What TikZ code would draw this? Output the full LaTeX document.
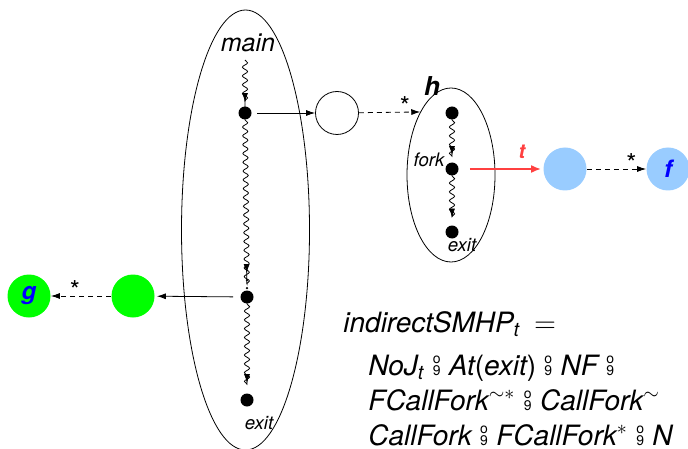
\documentclass[tikz,border=0pt]{standalone}
\usepackage{fontspec}
\setmainfont{TeX Gyre Heros}
\usepackage{xcolor}
\usepackage{tikz}
\usetikzlibrary{positioning,arrows.meta,shapes.geometric,decorations.pathmorphing}

\definecolor{procblue}{HTML}{99CCFF}
\definecolor{procgreen}{HTML}{00FF00}
\definecolor{forkred}{HTML}{FF4040}

\newcommand{\zsemi}{\hspace{0.3em}{\upshape\fontsize{7}{7}\selectfont\makebox[0pt][l]{\raisebox{6pt}{o}}9}\hspace{0.3em}}

\begin{document}
\begin{tikzpicture}[x=0.5pt,y=-0.5pt,
  >={Latex[length=4.5pt,width=3pt]},
  dot/.style={circle,fill,inner sep=0pt,minimum size=6.5pt},
  blob/.style={circle,inner sep=0pt,minimum size=21.5pt},
  proc/.style={draw,ellipse,inner sep=0pt},
  wavy/.style={->,decorate,decoration={snake,amplitude=1.3pt,segment length=4.4pt,post length=2.5pt}},
  dashlink/.style={->,dash pattern=on 2.5pt off 2pt},
  lbl/.style={font=\itshape\fontsize{9.3}{10}\selectfont,inner sep=0pt},
  fn/.style={font=\bfseries\itshape\fontsize{12}{13}\selectfont,text=blue},
  star/.style={font=\fontsize{13}{13}\selectfont,inner sep=0pt,above=-2pt},
  eq/.style={anchor=base west,inner sep=0pt,font=\itshape\fontsize{14}{16}\selectfont}
]
\useasboundingbox (0,0) rectangle (688,448);

\node[proc,minimum width=64pt,minimum height=220pt] (mainp) at (245.5,230) {};
\node[proc,minimum width=44pt,minimum height=87pt] (hp) at (451,175) {};
\node[font=\itshape\fontsize{12.5}{13}\selectfont] (mainlbl) at (248,43) {main};
\node[font=\bfseries\itshape\fontsize{13}{14}\selectfont] (hlbl) at (432,86) {h};

\node[dot] (mtop) at (245,113) {};
\node[dot] (mfork) at (247,297) {};
\node[dot] (mexit) at (247,400) {};
\node[dot] (htop) at (452,113) {};
\node[dot] (hfork) at (452,169) {};
\node[dot] (hexit) at (452,232) {};
\node[lbl] (forklbl) at (429,160) {fork};
\node[lbl] (hexitlbl) at (462,245) {exit};
\node[lbl] (mexitlbl) at (259,423) {exit};

\node[blob,draw] (call) at (337,113) {};
\node[blob,fill=procblue] (tnew) at (565,169) {};
\node[blob,fill=procblue,fn] (fp) at (668,169) {f};
\node[blob,fill=procgreen] (gnew) at (133,296) {};
\node[blob,fill=procgreen,fn] (gp) at (29,296) {g};

\coordinate (mstart) at (245,60);
\draw[wavy,shorten >=2pt] (mstart) -- (mtop);
\draw[wavy,shorten <=10pt,shorten >=8.5pt] (mtop) -- (mfork);
\fill (mfork.north) ++(0,1pt) circle (0.65pt) ++(0,4pt) circle (0.65pt);
\draw[wavy,shorten <=4.25pt,shorten >=5pt] (mfork) -- (mexit);
\draw[wavy,shorten <=0.5pt,shorten >=3.5pt] (htop) -- (hfork);
\draw[wavy,shorten <=0.75pt,shorten >=3.75pt] (hfork) -- (hexit);

\draw[->,shorten <=2.75pt] (mtop) -- (call);
\draw[dashlink] (call) -- node[star,pos=0.75]{*} (hp.116.5);
\draw[->,forkred,line width=1pt,>={Latex[length=5pt,width=4pt]},shorten <=5.5pt,shorten >=1pt] (hfork) -- node[above=4.5pt,pos=0.75,inner sep=0pt,font=\bfseries\itshape\fontsize{10}{11}\selectfont]{t} (tnew);
\draw[dashlink] (tnew) -- node[star,pos=0.75]{*} (fp);
\draw[->,shorten <=3.5pt,shorten >=1pt] (mfork) -- (gnew);
\draw[dashlink] (gnew) -- node[star,pos=0.6]{*} (gp);

\node[eq] (eq0) at (343,332) {indirectSMHP\textsubscript{t}\hspace{0.5em}$=$};
\node[eq] (eq1) at (368,375) {NoJ\textsubscript{t}\zsemi At{\upshape(}exit{\upshape)}\zsemi NF\zsemi};
\node[eq] (eq2) at (368,410) {FCallFork$^{\sim *}$\zsemi CallFork$^{\sim}$};
\node[eq] (eq3) at (368,445) {CallFork\zsemi FCallFork$^{*}$\zsemi N};
\end{tikzpicture}
\end{document}
